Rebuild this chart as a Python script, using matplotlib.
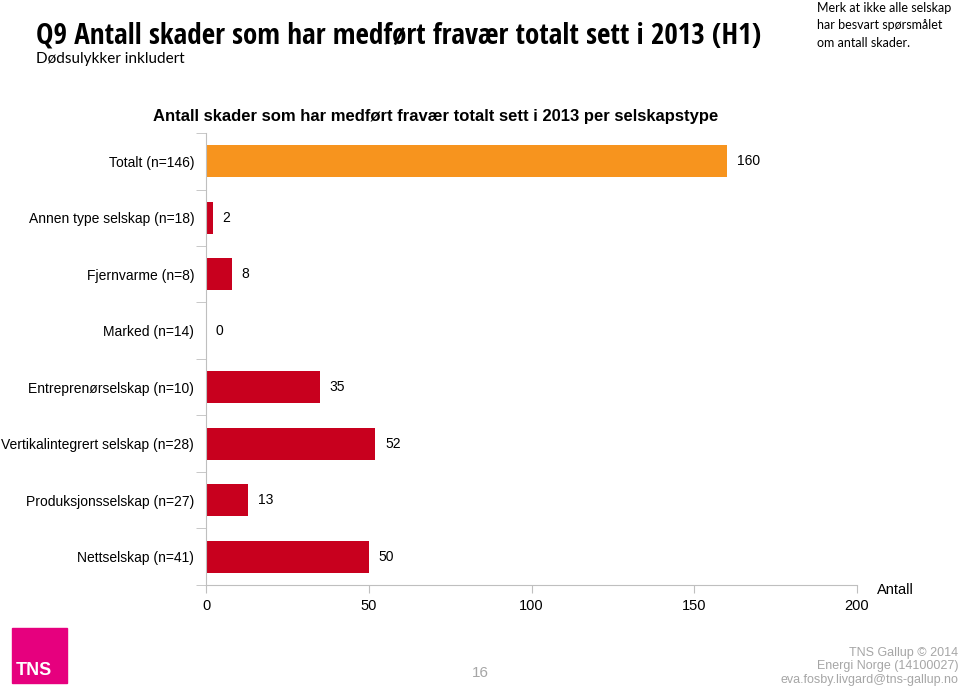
import matplotlib.pyplot as plt
import matplotlib.patches as mpatches
import numpy as np

categories = ['Totalt (n=146)', 'Annen type selskap (n=18)', 'Fjernvarme (n=8)',
              'Marked (n=14)', 'Entreprenørselskap (n=10)',
              'Vertikalintegrert selskap (n=28)', 'Produksjonsselskap (n=27)',
              'Nettselskap (n=41)']
values = [160, 2, 8, 0, 35, 52, 13, 50]
xticks = [0, 50, 100, 150, 200]

ORANGE = '#F7941E'
RED = '#C8001E'
GRAY = '#BFBFBF'

plt.rcParams['font.family'] = ['Liberation Sans', 'DejaVu Sans']

fig = plt.figure(figsize=(9.6, 6.87), dpi=100)
ax = fig.add_axes([0.2146, 0.1485, 0.6781, 0.6579])

y = np.arange(len(categories))
colors = [ORANGE] + [RED] * (len(categories) - 1)
ax.barh(y, values, height=0.57, color=colors)
for yi, v in zip(y, values):
    ax.annotate(str(v), (v, yi), xytext=(7, 0), textcoords='offset points',
                va='center', ha='left', fontsize=10)

ax.set_xlim(0, 200)
ax.set_ylim(len(categories) - 0.5, -0.5)
ax.set_xticks(xticks)
ax.set_xticklabels([str(t) for t in xticks], fontsize=10.5)
ax.set_yticks(y)
ax.set_yticklabels(categories, fontsize=10)
ax.tick_params(axis='y', which='major', length=0, pad=8.5)
ax.set_yticks(np.arange(-0.5, len(categories), 1), minor=True)
ax.tick_params(axis='y', which='minor', length=7, color=GRAY)
ax.tick_params(axis='x', length=6, color=GRAY, pad=4)
for s in ['top', 'right']:
    ax.spines[s].set_visible(False)
for s in ['left', 'bottom']:
    ax.spines[s].set_color(GRAY)
ax.text(1.03, -0.01, 'Antall', transform=ax.transAxes, fontsize=10.5,
        ha='left', va='center')

ax.set_title('Antall skader som har medført fravær totalt sett i 2013 per selskapstype',
             fontsize=12, fontweight='bold', pad=9, x=0.353)

# header
fig.text(0.038, 0.948, 'Q9 Antall skader som har medført fravær totalt sett i 2013 (H1)',
         fontsize=21, fontweight='bold', family=['Open Sans Condensed', 'Lato', 'DejaVu Sans'],
         va='center', ha='left')
fig.text(0.038, 0.914, 'Dødsulykker inkludert', fontsize=11,
         family=['Lato', 'DejaVu Sans'], va='center', ha='left')
fig.text(0.851, 0.963, 'Merk at ikke alle selskap\nhar besvart spørsmålet\nom antall skader.',
         fontsize=9, family=['Lato', 'DejaVu Sans'], va='center', ha='left', linespacing=1.55)

# footer
fig.patches.append(mpatches.Rectangle((0.0125, 0.006), 0.0573, 0.08, transform=fig.transFigure,
                                      color='#E6007E'))
fig.text(0.016, 0.012, 'TNS', color='white', fontsize=13, fontweight='bold',
         ha='left', va='bottom')
fig.text(0.5, 0.02, '16', color='#A6A6A6', fontsize=11, ha='center', va='center')
fig.text(0.998, 0.03, 'TNS Gallup © 2014\nEnergi Norge (14100027)\neva.fosby.livgard@tns-gallup.no',
         color='#A6A6A6', fontsize=9, ha='right', va='center', linespacing=1.15)

fig.savefig('out.png', dpi=100)
